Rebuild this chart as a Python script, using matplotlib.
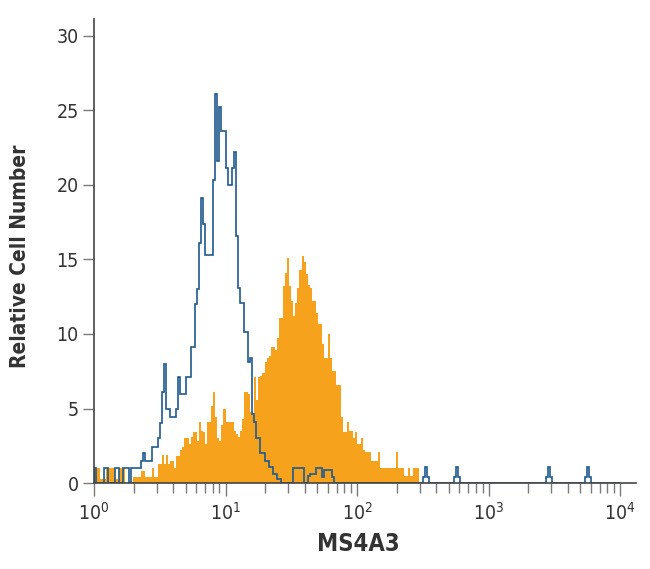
import numpy as np
import matplotlib
matplotlib.use("Agg")
import matplotlib.pyplot as plt
import matplotlib.ticker as mticker

# ── Data: 256 log channels over 4 decades (10^0 .. 10^4) ────────────────────
N_CHANNELS = 256
DECADES = 4

# isotype control (blue outline), channels 0..116
control_counts = [
    1, 0, 0, 0, 0, 1, 1, 0, 0, 0,
    1, 1, 0, 0, 1, 1, 1, 0, 1, 1,
    1, 1, 1, 1.5, 2.0, 1.5, 1.5, 1.5, 2.4, 2.4,
    2.4, 3.0, 4.0, 6.1, 8.0, 5.0, 5.0, 4.4, 4.4, 4.4,
    5.0, 7.1, 6.0, 6.0, 6.0, 7.1, 7.1, 9.1, 9.1, 12.0,
    13.0, 16.1, 19.1, 17.4, 15.3, 15.3, 15.3, 15.3, 20.3, 26.1,
    21.6, 25.2, 23.6, 23.6, 21.1, 20.0, 20.0, 21.1, 22.2, 16.6,
    13.1, 12.1, 12.1, 10.1, 10.1, 8.1, 8.4, 4.6, 4.1, 3.0,
    3.0, 2.0, 2.0, 1.5, 1.5, 1.1, 1.1, 0.6, 0.6, 0.3,
    0.3, 0, 0, 0, 0, 0, 0, 1, 1, 1,
    1, 1, 0, 0, 0.5, 0.6, 0.6, 0.6, 1, 1,
    1, 0.4, 0.9, 0.9, 0.9, 0.9, 0.4,
]
# isolated control events further right: (channel, count)
control_events = [
    (160, 0.4), (161, 1.1), (162, 0.4),
    (175, 0.4), (176, 1.1), (177, 0.4),
    (220, 0.4), (221, 1.1), (222, 0.4),
    (239, 0.4), (240, 1.1), (241, 0.4),
]

# MS4A3 antibody stained (orange filled), channels 0..157
ms4a3_counts = [
    1, 1, 1, 0.3, 0.3, 0.3, 1, 1, 1, 1,
    0.3, 0.3, 1, 1, 1, 0, 0, 0, 0, 0.4,
    0.4, 0.4, 0.4, 0.8, 0.8, 0.4, 0.4, 0.4, 1.0, 0.4,
    0.4, 1.3, 1.3, 1.9, 1.3, 1.9, 1.3, 1.5, 1.5, 1.0,
    1.8, 1.8, 2.2, 2.4, 3.0, 3.0, 2.6, 3.1, 3.4, 3.4,
    2.8, 4.1, 3.5, 3.4, 2.6, 4.1, 4.1, 5.2, 6.1, 4.4,
    3.0, 2.8, 3.9, 5.0, 4.1, 4.1, 4.1, 4.1, 3.5, 3.3,
    3.1, 3.5, 4.3, 6.1, 6.1, 6.0, 4.8, 4.6, 7.1, 5.6,
    7.1, 7.2, 7.4, 8.1, 8.4, 8.5, 9.1, 9.1, 8.9, 9.7,
    11.1, 11.1, 13.2, 14.1, 15.1, 13.2, 12.2, 11.2, 12.1, 13.1,
    14.3, 15.2, 14.8, 14.0, 13.3, 13.1, 12.2, 12.2, 11.4, 10.7,
    10.7, 9.3, 8.4, 8.4, 10.0, 8.4, 7.5, 7.5, 6.6, 6.6,
    4.4, 3.4, 3.4, 4.1, 3.5, 3.5, 3.0, 3.4, 2.6, 2.6,
    3.0, 2.2, 2.1, 2.1, 2.1, 1.5, 1.5, 1.5, 2.1, 1.0,
    1.0, 1.0, 1.0, 1.0, 1.0, 1.0, 1.0, 2.1, 1.0, 1.0,
    1.0, 0.5, 0.5, 1.0, 0.5, 1.0, 1.0, 1.0,
]

Y_TICKS = [0, 5, 10, 15, 20, 25, 30]
X_LABEL = "MS4A3"
Y_LABEL = "Relative Cell Number"

# ── Style ───────────────────────────────────────────────────────────────────
ORANGE = "#F7A21D"
BLUE = "#1E5A8E"
AXIS = "#444444"
TICK = "#7a7a7a"

plt.rcParams.update({
    "font.family": ["DejaVu Sans"],
    "font.stretch": "condensed",
    "mathtext.default": "regular",
})

edges = 10.0 ** (np.arange(N_CHANNELS + 1) * DECADES / N_CHANNELS)

control = np.zeros(N_CHANNELS)
control[:len(control_counts)] = control_counts
for ch, c in control_events:
    control[ch] = c

stained = np.array(ms4a3_counts)

# ── Figure ──────────────────────────────────────────────────────────────────
fig = plt.figure(figsize=(6.5, 5.69), dpi=100)
ax = fig.add_axes([0.1446, 0.151, 0.834, 0.815])

ax.stairs(stained, edges[:len(stained) + 1], fill=True, color=ORANGE,
          linewidth=0, zorder=2)
ax.stairs(control, edges, color=BLUE, linewidth=1.2, zorder=3)

ax.set_xscale("log")
ax.set_xlim(1, 10 ** 4.122)
ax.set_ylim(0, 31.1)

ax.xaxis.set_major_locator(mticker.FixedLocator([1, 10, 100, 1000, 10000]))
ax.xaxis.set_minor_locator(mticker.LogLocator(base=10, subs=np.arange(2, 10), numticks=20))
ax.xaxis.set_major_formatter(mticker.FuncFormatter(
    lambda v, p: r"$\mathregular{10^{%d}}$" % round(np.log10(v))))
ax.xaxis.set_minor_formatter(mticker.NullFormatter())
ax.set_yticks(Y_TICKS)

for side in ("top", "right"):
    ax.spines[side].set_visible(False)
for side in ("left", "bottom"):
    ax.spines[side].set_color(AXIS)
    ax.spines[side].set_linewidth(1.2)
    ax.spines[side].set_zorder(4)

ax.tick_params(axis="x", which="major", direction="out", length=9.5,
               width=1.0, color=TICK, labelsize=14, labelcolor="#333333", pad=4)
ax.tick_params(axis="x", which="minor", direction="out", length=7,
               width=1.0, color=TICK)
ax.tick_params(axis="y", direction="out", length=8, width=1.0, color=TICK,
               labelsize=14, labelcolor="#333333", pad=3)

ax.set_xlabel(X_LABEL, fontsize=17, fontweight="bold", color="#333333")
ax.set_ylabel(Y_LABEL, fontsize=15, fontweight="bold", color="#333333")
ax.xaxis.set_label_coords(0.487, -0.105)
ax.yaxis.set_label_coords(-0.118, 0.49)

fig.savefig("out.png", dpi=100, facecolor="white")
